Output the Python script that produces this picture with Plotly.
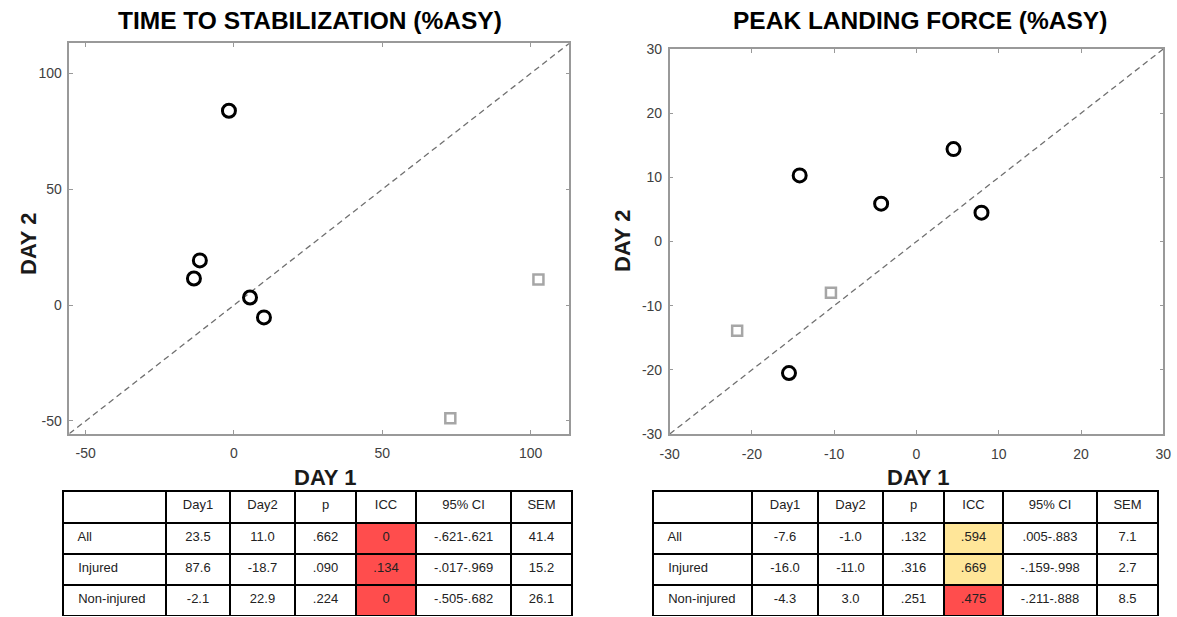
import plotly.graph_objects as go

# ---------------- data ----------------
tts_title = "TIME TO STABILIZATION (%ASY)"
plf_title = "PEAK LANDING FORCE (%ASY)"

# Time to stabilization: non-injured (circles) and injured (squares)
tts_circle_day1 = [-1.7, -11.5, -13.5, 5.4, 10.1]
tts_circle_day2 = [83.9, 19.3, 11.5, 3.3, -5.3]
tts_square_day1 = [72.9, 102.6]
tts_square_day2 = [-48.8, 11.1]
tts_range = [-55.5, 113.0]
tts_ticks = [-50, 0, 50, 100]
tts_ticktext = ["-50", "0", "50", "100"]

# Peak landing force
plf_circle_day1 = [-14.2, -4.3, 4.5, 7.9, -15.5]
plf_circle_day2 = [10.3, 5.9, 14.4, 4.5, -20.5]
plf_square_day1 = [-21.8, -10.4]
plf_square_day2 = [-13.9, -8.0]
plf_range = [-30, 30]
plf_ticks = [-30, -20, -10, 0, 10, 20, 30]
plf_ticktext = ["-30", "-20", "-10", "0", "10", "20", "30"]

# Tables
table_header = ["", "Day1", "Day2", "p", "ICC", "95% CI", "SEM"]
row_labels = ["All", "Injured", "Non-injured"]

tts_day1 = ["23.5", "87.6", "-2.1"]
tts_day2 = ["11.0", "-18.7", "22.9"]
tts_p = [".662", ".090", ".224"]
tts_icc = ["0", ".134", "0"]
tts_ci = ["-.621-.621", "-.017-.969", "-.505-.682"]
tts_sem = ["41.4", "15.2", "26.1"]

plf_day1 = ["-7.6", "-16.0", "-4.3"]
plf_day2 = ["-1.0", "-11.0", "3.0"]
plf_p = [".132", ".316", ".251"]
plf_icc = [".594", ".669", ".475"]
plf_ci = [".005-.883", "-.159-.998", "-.211-.888"]
plf_sem = ["7.1", "2.7", "8.5"]

RED = "#FF4D4D"
YELLOW = "#FFE699"
tts_icc_colors = [RED, RED, RED]
plf_icc_colors = [YELLOW, YELLOW, RED]

# ---------------- figure ----------------
W, H = 1177, 617
FONT = "Liberation Sans, Arial, sans-serif"

def px_x(p):
    return p / W

def px_y(p):
    return 1 - p / H

fig = go.Figure()

circle_marker = dict(symbol="circle-open", size=13, color="black",
                     line=dict(color="black", width=3))
square_marker = dict(symbol="square-open", size=10, color="#A6A6A6",
                     line=dict(color="#A6A6A6", width=2.5))
diag_line = dict(color="#707070", width=1.3, dash="6px,4px")

# left panel
fig.add_trace(go.Scatter(x=tts_range, y=tts_range, mode="lines", line=diag_line,
                         xaxis="x", yaxis="y", showlegend=False, hoverinfo="skip"))
fig.add_trace(go.Scatter(x=tts_square_day1, y=tts_square_day2, mode="markers",
                         marker=square_marker, xaxis="x", yaxis="y", showlegend=False))
fig.add_trace(go.Scatter(x=tts_circle_day1, y=tts_circle_day2, mode="markers",
                         marker=circle_marker, xaxis="x", yaxis="y", showlegend=False))

# right panel
fig.add_trace(go.Scatter(x=plf_range, y=plf_range, mode="lines", line=diag_line,
                         xaxis="x2", yaxis="y2", showlegend=False, hoverinfo="skip"))
fig.add_trace(go.Scatter(x=plf_square_day1, y=plf_square_day2, mode="markers",
                         marker=square_marker, xaxis="x2", yaxis="y2", showlegend=False))
fig.add_trace(go.Scatter(x=plf_circle_day1, y=plf_circle_day2, mode="markers",
                         marker=circle_marker, xaxis="x2", yaxis="y2", showlegend=False))


def make_table(dom_x, day1, day2, p, icc, ci, sem, icc_colors, widths):
    white = ["white"] * 3
    return go.Table(
        domain=dict(x=dom_x, y=[0, px_y(491)]),
        columnwidth=widths,
        header=dict(values=table_header,
                    align=["left"] + ["center"] * 6,
                    fill_color="white",
                    line=dict(color="black", width=2),
                    font=dict(family=FONT, size=13, color="#222222"),
                    height=32),
        cells=dict(values=[row_labels, day1, day2, p, icc, ci, sem],
                   align=["left"] + ["center"] * 6,
                   prefix=[" "] + [""] * 6,
                   fill_color=[white, white, white, white, icc_colors, white, white],
                   line=dict(color="black", width=2),
                   font=dict(family=FONT, size=13, color="#222222"),
                   height=31),
    )

fig.add_trace(make_table([px_x(63), px_x(572)], tts_day1, tts_day2, tts_p, tts_icc,
                         tts_ci, tts_sem, tts_icc_colors, [103, 64, 65, 61, 60, 95, 61]))
fig.add_trace(make_table([px_x(653), px_x(1158)], plf_day1, plf_day2, plf_p, plf_icc,
                         plf_ci, plf_sem, plf_icc_colors, [99, 66, 65, 61, 59, 94, 61]))

axis_common = dict(showline=True, linecolor="#999999", linewidth=1.5, mirror="ticks",
                   ticks="inside", ticklen=4, tickcolor="#999999", tickwidth=1,
                   showgrid=False, zeroline=False, automargin=False,
                   tickfont=dict(family=FONT, size=14, color="#404040"))

fig.update_layout(
    width=W, height=H,
    margin=dict(l=0, r=0, t=0, b=0, pad=0, autoexpand=False),
    paper_bgcolor="white", plot_bgcolor="white",
    font=dict(family=FONT),
    xaxis=dict(domain=[px_x(69.3), px_x(569.3)], range=tts_range, tickvals=tts_ticks,
               ticktext=tts_ticktext, anchor="y", ticklabelstandoff=6, **axis_common),
    yaxis=dict(domain=[px_y(433.7), px_y(43.3)], range=tts_range, tickvals=tts_ticks,
               ticktext=tts_ticktext, anchor="x", ticklabelstandoff=3, **axis_common),
    xaxis2=dict(domain=[px_x(669.7), px_x(1163.3)], range=plf_range, tickvals=plf_ticks,
                ticktext=plf_ticktext, anchor="y2", ticklabelstandoff=6, **axis_common),
    yaxis2=dict(domain=[px_y(434), px_y(49)], range=plf_range, tickvals=plf_ticks,
                ticktext=plf_ticktext, anchor="x2", ticklabelstandoff=3, **axis_common),
)

title_font = dict(family=FONT, size=24.5, color="black")
label_font = dict(family=FONT, size=22, color="#1a1a1a")

annotations = [
    dict(text="<b>" + tts_title + "</b>", x=px_x(310), y=px_y(21), font=title_font),
    dict(text="<b>" + plf_title + "</b>", x=px_x(920), y=px_y(21), font=title_font),
    dict(text="<b>DAY 1</b>", x=px_x(325), y=px_y(477), font=label_font),
    dict(text="<b>DAY 1</b>", x=px_x(918), y=px_y(477), font=label_font),
    dict(text="<b>DAY 2</b>", x=px_x(28), y=px_y(244), font=label_font, textangle=-90),
    dict(text="<b>DAY 2</b>", x=px_x(622), y=px_y(241), font=label_font, textangle=-90),
]
for a in annotations:
    a.update(xref="paper", yref="paper", showarrow=False, xanchor="center", yanchor="middle")
fig.update_layout(annotations=annotations)

fig.write_html("out.html")
